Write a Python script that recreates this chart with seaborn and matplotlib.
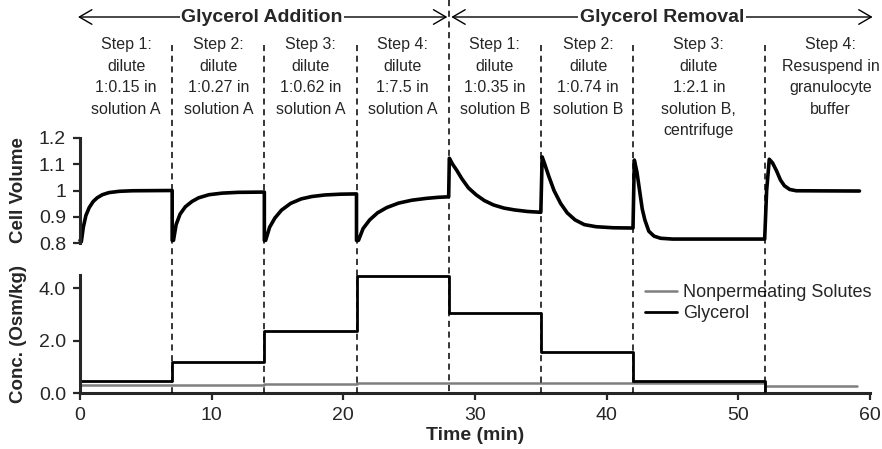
import matplotlib
matplotlib.use("Agg")
import matplotlib.pyplot as plt
import seaborn as sns

# step boundaries (min) and per-step concentrations (Osm/kg)
step_edges = [0, 7, 14, 21, 28, 35, 42, 52, 59]
phase_boundary = 28
glycerol_conc = [0.47, 1.18, 2.37, 4.46, 3.04, 1.57, 0.47, 0.0]
nonperm_conc = [0.29, 0.31, 0.34, 0.37, 0.39, 0.39, 0.40, 0.28]

# normalised cell volume
vol_time = [0.0, 0.1, 0.25, 0.45, 0.7, 1.0, 1.3, 1.7, 2.2, 3.0, 4.0, 7.0,
            7.0, 7.1, 7.3, 7.6, 8.0, 8.5, 9.0, 9.8, 10.8, 12.0, 14.0,
            14.0, 14.1, 14.4, 14.8, 15.3, 16.0, 16.8, 17.6, 18.6, 19.8, 21.0,
            21.0, 21.15, 21.5, 22.0, 22.6, 23.3, 24.2, 25.2, 26.3, 27.2, 28.0,
            28.05, 28.3, 28.6, 29.0, 29.5, 30.1, 30.7, 31.4, 32.2, 33.0, 34.0, 35.0,
            35.1, 35.3, 35.6, 36.0, 36.5, 37.0, 37.6, 38.3, 39.2, 40.5, 42.0,
            42.1, 42.3, 42.5, 42.7, 42.9, 43.2, 43.6, 44.1, 45.0, 52.0,
            52.15, 52.35, 52.6, 52.9, 53.2, 53.5, 53.9, 54.4, 59.2]
vol_value = [0.81, 0.805, 0.86, 0.905, 0.935, 0.958, 0.972, 0.984, 0.992, 0.997, 0.999, 1.0,
             0.81, 0.81, 0.87, 0.91, 0.938, 0.958, 0.972, 0.984, 0.99, 0.993, 0.994,
             0.81, 0.81, 0.86, 0.895, 0.925, 0.951, 0.968, 0.977, 0.983, 0.986, 0.987,
             0.81, 0.81, 0.855, 0.888, 0.915, 0.935, 0.952, 0.963, 0.970, 0.974, 0.976,
             1.123, 1.10, 1.078, 1.045, 1.01, 0.983, 0.962, 0.945, 0.933, 0.926, 0.92, 0.917,
             1.128, 1.10, 1.055, 1.0, 0.951, 0.915, 0.888, 0.870, 0.862, 0.858, 0.857,
             1.116, 1.07, 1.0, 0.93, 0.888, 0.845, 0.826, 0.818, 0.815, 0.815,
             1.0, 1.119, 1.105, 1.075, 1.04, 1.018, 1.004, 0.999, 0.998]

step_labels = ["Step 1:\ndilute\n1:0.15 in\nsolution A",
               "Step 2:\ndilute\n1:0.27 in\nsolution A",
               "Step 3:\ndilute\n1:0.62 in\nsolution A",
               "Step 4:\ndilute\n1:7.5 in\nsolution A",
               "Step 1:\ndilute\n1:0.35 in\nsolution B",
               "Step 2:\ndilute\n1:0.74 in\nsolution B",
               "Step 3:\ndilute\n1:2.1 in\nsolution B,\ncentrifuge",
               "Step 4:\nResuspend in\ngranulocyte\nbuffer"]
step_label_x = [3.5, 10.5, 17.5, 24.5, 31.5, 38.6, 47.0, 57.0]

phase_names = ["Glycerol Addition", "Glycerol Removal"]
phase_label_x = [13.8, 44.2]
phase_spans = [(-0.15, 27.9), (28.2, 60.2)]

sns.set_style("ticks")
plt.rcParams['font.family'] = ['Liberation Sans', 'DejaVu Sans']

fig = plt.figure(figsize=(8.82, 4.49), dpi=100)
L, W = 80 / 882, 790 / 882
ax_vol = fig.add_axes([L, 1 - 243 / 449, W, 105 / 449])
ax_conc = fig.add_axes([L, 1 - 393 / 449, W, 118 / 449])
ax_over = fig.add_axes([L, 0, W, 1])
for ax in (ax_vol, ax_conc, ax_over):
    ax.patch.set_visible(False)

# cell volume
sns.lineplot(x=vol_time, y=vol_value, ax=ax_vol, color='black', lw=2.6,
             sort=False, estimator=None, clip_on=False)
ax_vol.set_xlim(0, 60)
ax_vol.set_ylim(0.8, 1.2)
ax_vol.set_yticks([0.8, 0.9, 1.0, 1.1, 1.2])
ax_vol.set_yticklabels(["0.8", "0.9", "1", "1.1", "1.2"])
for s in ('top', 'right', 'bottom'):
    ax_vol.spines[s].set_visible(False)
ax_vol.tick_params(axis='x', bottom=False, labelbottom=False)
ax_vol.set_ylabel('Cell Volume', fontsize=13.5, fontweight='bold')
ax_vol.yaxis.set_label_coords(-0.067, 0.5)

# concentrations
sns.lineplot(x=step_edges, y=nonperm_conc + nonperm_conc[-1:], ax=ax_conc,
             color='#7f7f7f', lw=1.8, drawstyle='steps-post', estimator=None,
             label='Nonpermeating Solutes')
sns.lineplot(x=step_edges, y=glycerol_conc + glycerol_conc[-1:], ax=ax_conc,
             color='black', lw=2.0, drawstyle='steps-post', estimator=None,
             label='Glycerol')
ax_conc.set_xlim(0, 60)
ax_conc.set_ylim(0, 4.5)
ax_conc.set_xticks(range(0, 61, 10))
ax_conc.set_yticks([0, 2, 4])
ax_conc.set_yticklabels(["0.0", "2.0", "4.0"])
for s in ('top', 'right'):
    ax_conc.spines[s].set_visible(False)
ax_conc.set_xlabel('Time (min)', fontsize=14, fontweight='bold', labelpad=2)
ax_conc.set_ylabel('Conc. (Osm/kg)', fontsize=13.5, fontweight='bold')
ax_conc.yaxis.set_label_coords(-0.067, 0.5)
ax_conc.legend(loc='upper left', bbox_to_anchor=(0.715, 0.92), frameon=False,
               fontsize=13, handlelength=1.8, handletextpad=0.3,
               labelspacing=0.2, borderaxespad=0, borderpad=0)

for ax in (ax_vol, ax_conc):
    for s in ax.spines.values():
        s.set_linewidth(2.2)
    ax.tick_params(axis='both', labelsize=14, length=5, width=1.6, pad=5)

# overlay: dashed step boundaries and annotations (y in pixels from top)
ax_over.set_xlim(0, 60)
ax_over.set_ylim(449, 0)
ax_over.axis('off')
inner = step_edges[1:-1]
tops = [0 if t == phase_boundary else 45 for t in inner]
ax_over.vlines(inner, tops, 393, colors='black', lw=1.1, linestyles=(0, (4, 3)))

for name, xc, (x0, x1) in zip(phase_names, phase_label_x, phase_spans):
    ax_over.annotate('', xy=(x0, 17), xytext=(x1, 17), annotation_clip=False,
                     arrowprops=dict(arrowstyle='<->,head_length=0.6,head_width=0.35',
                                     lw=1.0, color='black', mutation_scale=15,
                                     shrinkA=0, shrinkB=0))
    ax_over.text(xc, 17, name, ha='center', va='center', fontsize=14,
                 fontweight='bold', zorder=5,
                 bbox=dict(facecolor='white', edgecolor='none', pad=1))

for lab, xc in zip(step_labels, step_label_x):
    ax_over.text(xc, 37, lab, ha='center', va='top', fontsize=11.5,
                 linespacing=1.55)

fig.savefig('out.png', dpi=100)
